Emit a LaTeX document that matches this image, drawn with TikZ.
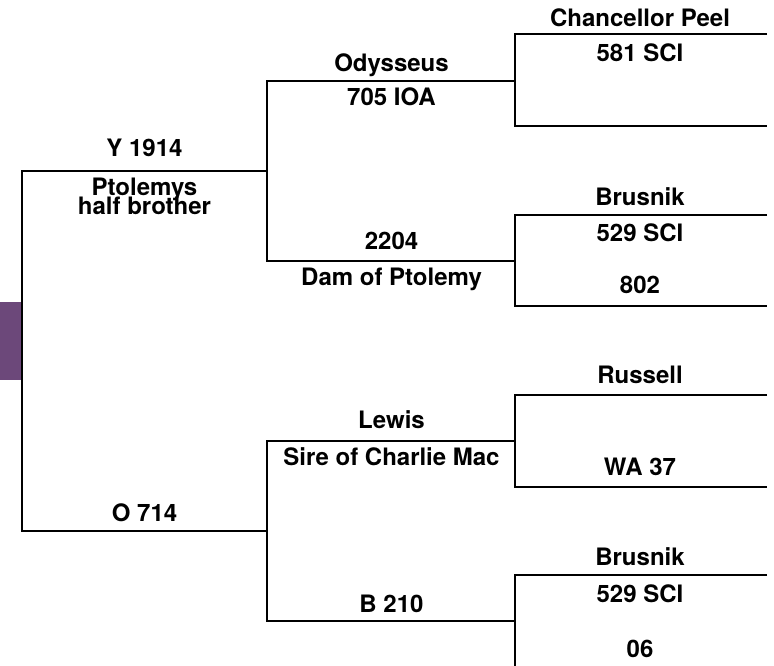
\documentclass[tikz,border=0pt]{standalone}
\usepackage{fontspec}
\setmainfont{TeX Gyre Heros}
\definecolor{plum}{RGB}{108,72,122}
\begin{document}
\begin{tikzpicture}[x=1pt,y=-1pt,
  ln/.style={line width=1.8pt,black},
  lbl/.style={font=\bfseries\fontsize{24}{22}\selectfont,inner sep=0pt,anchor=base,text=black}]
\useasboundingbox (0,0) rectangle (774,666);
\fill[plum] (0,302) rectangle (21,380);
% column x positions
\def\xa{22}\def\xb{267}\def\xc{515}\def\xd{767}
% generation 1
\coordinate (g1t) at (\xa,171);
\coordinate (g1b) at (\xa,531);
\coordinate (g1te) at (\xb,171);
\coordinate (g1be) at (\xb,531);
\draw[ln] (g1te) -- (g1t) -- (g1b) -- (g1be);
% generation 2
\coordinate (g2at) at (\xb,81);
\coordinate (g2ab) at (\xb,261);
\coordinate (g2ate) at (\xc,81);
\coordinate (g2abe) at (\xc,261);
\draw[ln] (g2ate) -- (g2at) -- (g2ab) -- (g2abe);
\coordinate (g2bt) at (\xb,441);
\coordinate (g2bb) at (\xb,621);
\coordinate (g2bte) at (\xc,441);
\coordinate (g2bbe) at (\xc,621);
\draw[ln] (g2bte) -- (g2bt) -- (g2bb) -- (g2bbe);
% generation 3
\coordinate (g3at) at (\xc,34);
\coordinate (g3ab) at (\xc,126);
\draw[ln] (\xd,34) -- (g3at) -- (g3ab) -- (\xd,126);
\coordinate (g3bt) at (\xc,215);
\coordinate (g3bb) at (\xc,306);
\draw[ln] (\xd,215) -- (g3bt) -- (g3bb) -- (\xd,306);
\coordinate (g3ct) at (\xc,395);
\coordinate (g3cb) at (\xc,487);
\draw[ln] (\xd,395) -- (g3ct) -- (g3cb) -- (\xd,487);
\coordinate (g3dt) at (\xc,575);
\coordinate (g3db) at (\xc,668);
\draw[ln] (\xd,575) -- (g3dt) -- (g3db);
% labels generation 1
\node[lbl] (y1914) at (144.5,157) {Y 1914};
\node[lbl] (ptol1) at (144.5,196) {Ptolemys};
\node[lbl] (ptol2) at (144.5,214.5) {half brother};
\node[lbl] (o714) at (144.5,521) {O 714};
% labels generation 2
\node[lbl] (odys) at (391.5,71.5) {Odysseus};
\node[lbl] (ioa) at (391.5,106) {705 IOA};
\node[lbl] (n2204) at (391.5,249) {2204};
\node[lbl] (dam) at (391.5,285) {Dam of Ptolemy};
\node[lbl] (lewis) at (391.5,428) {Lewis};
\node[lbl] (sire) at (391.5,465) {Sire of Charlie Mac};
\node[lbl] (b210) at (391.5,612) {B 210};
% labels generation 3
\node[lbl] (peel) at (640,27) {Chancellor Peel};
\node[lbl] (sci581) at (640,62) {581 SCI};
\node[lbl] (brus1) at (640,205) {Brusnik};
\node[lbl] (sci529a) at (640,241) {529 SCI};
\node[lbl] (n802) at (640,293) {802};
\node[lbl] (russ) at (640,383) {Russell};
\node[lbl] (wa37) at (640,475) {WA 37};
\node[lbl] (brus2) at (640,565) {Brusnik};
\node[lbl] (sci529b) at (640,602) {529 SCI};
\node[lbl] (n06) at (640,657) {06};
\end{tikzpicture}
\end{document}
